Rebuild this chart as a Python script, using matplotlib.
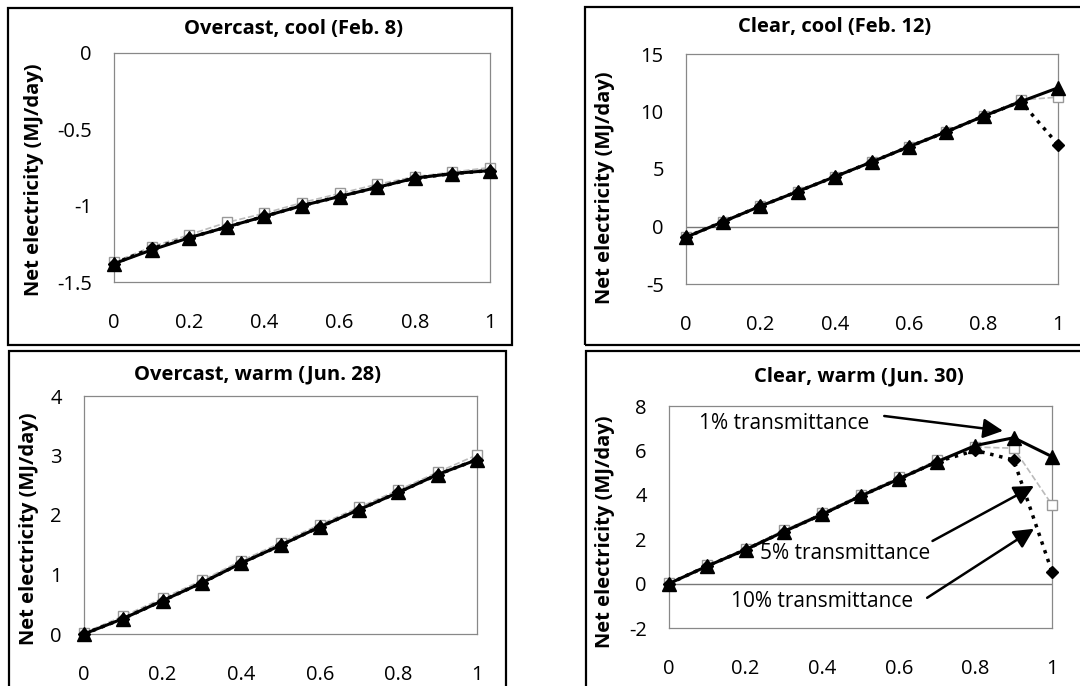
import matplotlib
matplotlib.use("Agg")
from matplotlib import pyplot as plt
from matplotlib.patches import Rectangle

plt.rcParams['font.family'] = ['Open Sans', 'DejaVu Sans']

# %% Data
x = [0, 0.1, 0.2, 0.3, 0.4, 0.5, 0.6, 0.7, 0.8, 0.9, 1.0]
xticks = [0, 0.2, 0.4, 0.6, 0.8, 1]
xtick_labels = ['0', '0.2', '0.4', '0.6', '0.8', '1']

titles = ['Overcast, cool (Feb. 8)', 'Clear, cool (Feb. 12)',
          'Overcast, warm (Jun. 28)', 'Clear, warm (Jun. 30)']

# 1% transmittance (triangles), 5% (open squares), 10% (diamonds)
cool_over_t1 = [-1.38, -1.29, -1.21, -1.14, -1.07, -1.00, -0.94, -0.88, -0.82, -0.79, -0.77]
cool_over_t5 = [-1.37, -1.27, -1.19, -1.11, -1.05, -0.98, -0.92, -0.86, -0.81, -0.78, -0.75]
cool_over_t10 = [-1.38, -1.28, -1.21, -1.14, -1.07, -1.00, -0.94, -0.88, -0.82, -0.79, -0.77]

cool_clear_t1 = [-0.93, 0.42, 1.77, 3.04, 4.33, 5.62, 6.95, 8.24, 9.60, 10.86, 12.06]
cool_clear_t5 = [-0.93, 0.42, 1.77, 3.04, 4.33, 5.62, 6.95, 8.24, 9.60, 11.00, 11.25]
cool_clear_t10 = [-0.93, 0.42, 1.77, 3.04, 4.33, 5.62, 6.95, 8.24, 9.60, 10.86, 7.13]

warm_over_t1 = [0.00, 0.26, 0.56, 0.86, 1.19, 1.49, 1.80, 2.09, 2.38, 2.68, 2.93]
warm_over_t5 = [0.02, 0.30, 0.60, 0.90, 1.23, 1.53, 1.84, 2.13, 2.42, 2.72, 3.01]
warm_over_t10 = [0.00, 0.26, 0.56, 0.86, 1.19, 1.49, 1.80, 2.09, 2.38, 2.68, 2.93]

warm_clear_t1 = [0.00, 0.79, 1.53, 2.34, 3.12, 3.94, 4.71, 5.49, 6.22, 6.57, 5.72]
warm_clear_t5 = [0.02, 0.83, 1.58, 2.40, 3.18, 4.00, 4.78, 5.55, 6.15, 6.10, 3.55]
warm_clear_t10 = [0.00, 0.79, 1.53, 2.34, 3.12, 3.94, 4.71, 5.49, 6.00, 5.57, 0.53]

series = [
    (cool_over_t1, cool_over_t5, cool_over_t10),
    (cool_clear_t1, cool_clear_t5, cool_clear_t10),
    (warm_over_t1, warm_over_t5, warm_over_t10),
    (warm_clear_t1, warm_clear_t5, warm_clear_t10),
]
ylims = [(-1.5, 0), (-5, 15), (0, 4), (-2, 8)]
yticks = [[-1.5, -1, -0.5, 0], [-5, 0, 5, 10, 15], [0, 1, 2, 3, 4], [-2, 0, 2, 4, 6, 8]]
ytick_labels = [['-1.5', '-1', '-0.5', '0'], ['-5', '0', '5', '10', '15'],
                ['0', '1', '2', '3', '4'], ['-2', '0', '2', '4', '6', '8']]

# %% Layout (pixels)
W, H = 1080, 686
# plot areas: left, right, top, bottom
areas = [(114, 490, 53, 282), (686, 1058, 54, 284), (84, 477, 396, 634), (669, 1052, 406, 628)]
# outer boxes: left, right, top, bottom
boxes = [(8, 512, 8, 345), (585, 1085, 7, 345), (9, 506, 351, 690), (586, 1085, 351, 690)]
title_pos = [(293, 29), (835, 27), (257, 374), (859, 376)]
ylabel_pos = [(34, 180), (605, 188), (29, 529), (605, 532)]

fig = plt.figure(figsize=(W / 100, H / 100), dpi=100)

for (l, r, t, b) in boxes:
    fig.patches.append(Rectangle((l / W, 1 - b / H), (r - l) / W, (b - t) / H,
                                 transform=fig.transFigure, fill=False,
                                 edgecolor='black', linewidth=1.6))

axes = []
for i, (l, r, t, b) in enumerate(areas):
    ax = fig.add_axes([l / W, 1 - b / H, (r - l) / W, (b - t) / H])
    t1, t5, t10 = series[i]
    ax.plot(x, t5, linestyle='--', color='#bbbbbb', linewidth=1.2,
            marker='s', markersize=7.5, markerfacecolor='white',
            markeredgecolor='#999999', markeredgewidth=1, clip_on=False, zorder=3)
    ax.plot(x, t10, linestyle=':', color='black', linewidth=2.5,
            marker='D', markersize=6.5, markerfacecolor='black',
            markeredgecolor='black', clip_on=False, zorder=4)
    ax.plot(x, t1, linestyle='-', color='black', linewidth=2.2,
            marker='^', markersize=10, markerfacecolor='black',
            markeredgecolor='black', clip_on=False, zorder=5)
    if ylims[i][0] < 0 < ylims[i][1]:
        ax.axhline(0, color='#777777', linewidth=1.0, zorder=1)
    ax.set_xlim(0, 1)
    ax.set_ylim(*ylims[i])
    ax.set_xticks(xticks)
    ax.set_xticklabels(xtick_labels)
    ax.set_yticks(yticks[i])
    ax.set_yticklabels(ytick_labels[i])
    ax.tick_params(length=0, labelsize=14.5)
    ax.tick_params(axis='x', pad=22)
    ax.tick_params(axis='y', pad=16)
    for sp in ax.spines.values():
        sp.set_color('#888888')
        sp.set_linewidth(0.9)
    axes.append(ax)

for i in range(4):
    tx, ty = title_pos[i]
    fig.text(tx / W, 1 - ty / H, titles[i], ha='center', va='center',
             fontsize=14.5, fontweight='bold')
    lx, ly = ylabel_pos[i]
    fig.text(lx / W, 1 - ly / H, 'Net electricity (MJ/day)', ha='center', va='center',
             rotation=90, fontsize=14.5, fontweight='bold')

# %% Annotations (clear, warm)
ax = axes[3]
arrow = dict(arrowstyle='-|>', color='black', lw=1.8, mutation_scale=30, shrinkA=0, shrinkB=0)
ax.text(0.078, 7.19, '1% transmittance', ha='left', va='center', fontsize=15, zorder=6)
ax.annotate('', xy=(0.872, 6.88), xytext=(0.562, 7.55), arrowprops=arrow, zorder=6)
ax.text(0.238, 1.35, '5% transmittance', ha='left', va='center', fontsize=15, zorder=6)
ax.annotate('', xy=(0.953, 4.40), xytext=(0.688, 1.92), arrowprops=arrow, zorder=6)
ax.text(0.162, -0.79, '10% transmittance', ha='left', va='center', fontsize=15, zorder=6)
ax.annotate('', xy=(0.953, 2.47), xytext=(0.674, -0.64), arrowprops=arrow, zorder=6)

plt.savefig("out.png", dpi=100)
plt.close(fig)
